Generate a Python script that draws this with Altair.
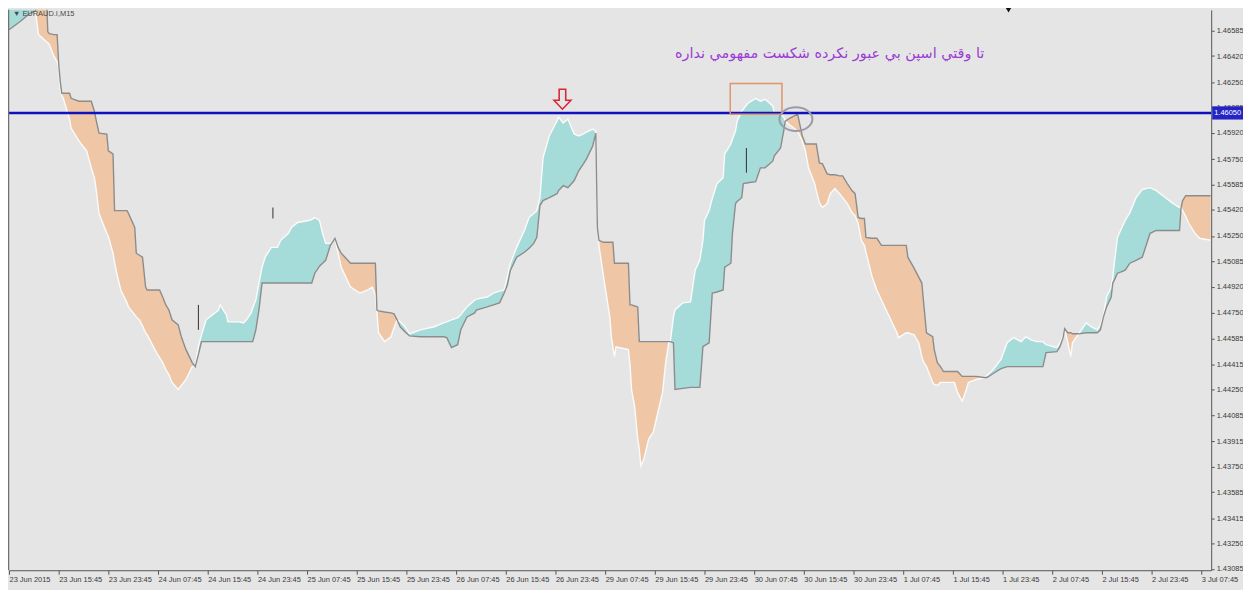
import json
import altair as alt
import pandas as pd
import numpy as np

# ---------------- data (bar index on M15 chart, prices) ----------------
bar = [
    0, 7, 13, 17, 19, 24, 25, 26, 29, 31, 32, 33, 34, 35, 38, 39, 40, 45, 50, 53,
    55, 56, 58, 63, 64, 67, 68, 70, 72, 76, 77, 81, 82, 84, 86, 88, 89, 95, 97, 99,
    101, 103, 105, 109, 111, 114, 118, 120,
    122, 124, 127, 131, 135, 136, 140, 141, 148, 151, 153, 156, 157, 159, 161, 163,
    165, 169, 173, 175, 180, 182, 186, 193, 195, 197, 200, 202, 204, 207, 210,
    212, 214, 220, 226, 231, 234, 236, 237, 238, 242, 246, 248, 250,
    252, 255, 258, 265, 274, 280, 282, 285, 289, 291, 295, 300, 301, 308, 312, 316,
    319, 321, 323, 327, 332, 335, 338, 340, 342, 344, 348, 353, 354, 357, 360, 364,
    367, 370, 372, 376, 378, 379,
    380, 383, 387, 388, 389, 390, 391, 399, 400, 401, 403, 405, 406, 407, 409, 412,
    415, 418, 421, 423, 425, 426,
    428, 429, 434, 439, 442, 445, 447, 448, 451, 453, 456, 460, 461, 465, 466, 468,
    469, 472, 473, 476, 481, 484, 487, 490, 492, 493, 497, 499, 500,
    503, 508, 511, 513, 515, 519, 520, 522, 524, 527, 529, 532, 535, 537, 540, 543,
    545, 547, 549, 551, 552, 556, 559, 562, 568, 572, 573, 578, 579, 583, 586, 588,
    589, 591, 595, 596, 598, 600, 602, 609, 611, 614, 616, 618, 623, 628,
    630, 634, 639, 643, 647, 652, 655, 658, 662, 666, 668, 675, 677, 679, 680,
    682, 684, 685, 689,
    694, 697, 701, 703, 705, 707, 710, 711, 712, 714, 716, 719, 722, 726, 730, 735,
    739, 745, 749, 754, 755,
    756, 758, 760, 764, 767, 774,
]

span_a = [
    1.46837, 1.46804, 1.46759, 1.46714, 1.46559, 1.46514, 1.46507, 1.46494, 1.46417, 1.46384,
    1.46352, 1.46204, 1.46165, 1.46145, 1.46042, 1.46010, 1.45952, 1.45868, 1.45803, 1.45693,
    1.45629, 1.45564, 1.45396, 1.45267, 1.45247, 1.45138, 1.45079, 1.44983, 1.44899, 1.44815,
    1.44789, 1.44737, 1.44724, 1.44705, 1.44666, 1.44621, 1.44608, 1.44492, 1.44459, 1.44427,
    1.44382, 1.44349, 1.44298, 1.44253, 1.44278, 1.44317, 1.44401, 1.44401,
    1.44530, 1.44608, 1.44705, 1.44737, 1.44769, 1.44802, 1.44737, 1.44692, 1.44692, 1.44685,
    1.44705, 1.44750, 1.44782, 1.44834, 1.44944, 1.45047, 1.45112, 1.45176, 1.45176, 1.45222,
    1.45267, 1.45306, 1.45338, 1.45351, 1.45357, 1.45370, 1.45351, 1.45267, 1.45202, 1.45202,
    1.45235,
    1.45138, 1.45047, 1.44918, 1.44879, 1.44899, 1.44918, 1.44866, 1.44756, 1.44621, 1.44563,
    1.44595, 1.44653, 1.44705,
    1.44692, 1.44660, 1.44614, 1.44640, 1.44660, 1.44685, 1.44692, 1.44705, 1.44718, 1.44737,
    1.44789, 1.44834, 1.44840, 1.44853, 1.44879, 1.44892, 1.44899, 1.44983, 1.45073, 1.45176,
    1.45286, 1.45370, 1.45396, 1.45415, 1.45499, 1.45758, 1.45900, 1.45997, 1.46023, 1.45984,
    1.46010, 1.45913, 1.45900, 1.45913, 1.45926, 1.45945, 1.45932, 1.45306,
    1.45189, 1.44983, 1.44724, 1.44595, 1.44530, 1.44466, 1.44530, 1.44511, 1.44414, 1.44253,
    1.44143, 1.43930, 1.43865, 1.43755, 1.43800, 1.43930, 1.43975, 1.44104, 1.44233, 1.44427,
    1.44556, 1.44563,
    1.44724, 1.44769, 1.44815, 1.44821, 1.45028, 1.45093, 1.45222, 1.45351, 1.45415, 1.45493,
    1.45590, 1.45629, 1.45784, 1.45848, 1.45881, 1.45932, 1.45997, 1.46061, 1.46074, 1.46113,
    1.46145, 1.46126, 1.46139, 1.46113, 1.46094, 1.46048, 1.46042, 1.46023, 1.45997,
    1.45971, 1.45932, 1.45868, 1.45803, 1.45693, 1.45590, 1.45545, 1.45467, 1.45435, 1.45461,
    1.45525, 1.45558, 1.45525, 1.45499, 1.45461, 1.45402, 1.45383, 1.45331, 1.45222, 1.45189,
    1.45144, 1.44983, 1.44899, 1.44834, 1.44705, 1.44621, 1.44589, 1.44621, 1.44621, 1.44608,
    1.44556, 1.44466, 1.44433, 1.44401, 1.44298, 1.44285, 1.44278, 1.44298, 1.44298, 1.44298,
    1.44233, 1.44175, 1.44233, 1.44298, 1.44317, 1.44330,
    1.44343, 1.44382, 1.44447, 1.44556, 1.44589, 1.44563, 1.44595, 1.44576, 1.44563, 1.44563,
    1.44543, 1.44524, 1.44556, 1.44601, 1.44647,
    1.44556, 1.44466, 1.44556, 1.44614,
    1.44685, 1.44660, 1.44640, 1.44672, 1.44737, 1.44853, 1.44918, 1.44983, 1.45073, 1.45241,
    1.45286, 1.45351, 1.45402, 1.45499, 1.45551, 1.45564, 1.45545, 1.45499, 1.45467, 1.45435,
    1.45435,
    1.45415, 1.45377, 1.45331, 1.45267, 1.45235, 1.45222,
]

span_b = [
    1.46591, 1.46643, 1.46694, 1.46714, 1.46837, 1.46837, 1.46578, 1.46565, 1.46559, 1.46559,
    1.46371, 1.46255, 1.46178, 1.46178, 1.46178, 1.46178, 1.46145, 1.46126, 1.46126, 1.46126,
    1.46061, 1.46010, 1.45919, 1.45913, 1.45803, 1.45784, 1.45415, 1.45415, 1.45415, 1.45415,
    1.45396, 1.45306, 1.45138, 1.45125, 1.45112, 1.44918, 1.44899, 1.44899, 1.44899, 1.44853,
    1.44802, 1.44769, 1.44705, 1.44672, 1.44595, 1.44511, 1.44427, 1.44401,
    1.44479, 1.44563, 1.44563, 1.44563, 1.44563, 1.44563, 1.44563, 1.44563, 1.44563, 1.44563,
    1.44563, 1.44563, 1.44563, 1.44640, 1.44769, 1.44944, 1.44944, 1.44944, 1.44944, 1.44944,
    1.44944, 1.44944, 1.44944, 1.44944, 1.44944, 1.45008, 1.45054, 1.45073, 1.45092, 1.45189,
    1.45235,
    1.45176, 1.45138, 1.45073, 1.45073, 1.45073, 1.45073, 1.45073, 1.44769, 1.44763, 1.44756,
    1.44750, 1.44744, 1.44705,
    1.44660, 1.44627, 1.44601, 1.44595, 1.44595, 1.44595, 1.44589, 1.44524, 1.44543, 1.44640,
    1.44724, 1.44750, 1.44769, 1.44789, 1.44802, 1.44815, 1.44879, 1.44931, 1.45028, 1.45112,
    1.45144, 1.45170, 1.45202, 1.45241, 1.45448, 1.45480, 1.45499, 1.45525, 1.45545, 1.45577,
    1.45564, 1.45609, 1.45674, 1.45719, 1.45751, 1.45835, 1.45919, 1.45306,
    1.45222, 1.45209, 1.45209, 1.45209, 1.45209, 1.45073, 1.45073, 1.45073, 1.44802, 1.44802,
    1.44795, 1.44789, 1.44563, 1.44563, 1.44563, 1.44563, 1.44563, 1.44563, 1.44563, 1.44563,
    1.44563, 1.44563,
    1.44556, 1.44253, 1.44259, 1.44266, 1.44266, 1.44266, 1.44530, 1.44537, 1.44556, 1.44879,
    1.44886, 1.44899, 1.45047, 1.45073, 1.45267, 1.45461, 1.45474, 1.45499, 1.45590, 1.45596,
    1.45603, 1.45693, 1.45693, 1.45719, 1.45738, 1.45771, 1.45822, 1.45932, 1.45997,
    1.46016, 1.46042, 1.45900, 1.45848, 1.45848, 1.45848, 1.45848, 1.45725, 1.45719, 1.45654,
    1.45648, 1.45648, 1.45641, 1.45641, 1.45590, 1.45545, 1.45525, 1.45370, 1.45364, 1.45364,
    1.45241, 1.45235, 1.45235, 1.45189, 1.45189, 1.45189, 1.45189, 1.45189, 1.45112, 1.45041,
    1.44983, 1.44944, 1.44834, 1.44621, 1.44595, 1.44511, 1.44427, 1.44401, 1.44369, 1.44369,
    1.44369, 1.44337, 1.44337, 1.44337, 1.44337, 1.44330,
    1.44330, 1.44356, 1.44388, 1.44401, 1.44401, 1.44401, 1.44401, 1.44401, 1.44401, 1.44401,
    1.44492, 1.44498, 1.44530, 1.44589, 1.44647,
    1.44621, 1.44621, 1.44614, 1.44614,
    1.44621, 1.44621, 1.44621, 1.44640, 1.44724, 1.44789, 1.44853, 1.44944, 1.44963, 1.45008,
    1.45015, 1.45028, 1.45073, 1.45092, 1.45112, 1.45267, 1.45286, 1.45286, 1.45286, 1.45286,
    1.45435,
    1.45480, 1.45512, 1.45512, 1.45512, 1.45512, 1.45512,
]

assert len(bar) == len(span_a) == len(span_b)

x_tick_bars = list(range(0, 769, 32))
x_tick_labels = [
    "23 Jun 2015", "23 Jun 15:45", "23 Jun 23:45", "24 Jun 07:45", "24 Jun 15:45",
    "24 Jun 23:45", "25 Jun 07:45", "25 Jun 15:45", "25 Jun 23:45", "26 Jun 07:45",
    "26 Jun 15:45", "26 Jun 23:45", "29 Jun 07:45", "29 Jun 15:45", "29 Jun 23:45",
    "30 Jun 07:45", "30 Jun 15:45", "30 Jun 23:45", "1 Jul 07:45", "1 Jul 15:45",
    "1 Jul 23:45", "2 Jul 07:45", "2 Jul 15:45", "2 Jul 23:45", "3 Jul 07:45",
]
y_tick_values = [
    1.46585, 1.46420, 1.46250, 1.46085, 1.45920, 1.45750, 1.45585, 1.45420, 1.45250,
    1.45085, 1.44920, 1.44750, 1.44585, 1.44415, 1.44250, 1.44085, 1.43915, 1.43750,
    1.43585, 1.43415, 1.43250, 1.43085,
]

level_price = [1.46050]
level_label = ["1.46050"]

wick_bar = [122, 170, 475]
wick_lo = [1.44640, 1.45364, 1.45661]
wick_hi = [1.44802, 1.45435, 1.45822]

note_text = ["تا وقتي اسپن بي عبور نكرده شكست مفهومي نداره"]
note_bar = [528.6]
note_price = [1.46430]

arrow_bar = [356.5]
arrow_price = [1.46139]

box_bar = [464.6]
box_bar2 = [497.9]
box_lo = [1.46042]
box_hi = [1.46242]

ellipse_bar = [506.9]
ellipse_price = [1.46010]

symbol_label = ["▼ EURAUD.I,M15"]

# ---------------- chart ----------------
BG = "#e5e5e5"
FONT = "Liberation Sans"

df = pd.DataFrame({"bar": bar, "a": span_a, "b": span_b})
bull = df["a"] >= df["b"]
df["teal_hi"] = np.where(bull, df["a"], df["b"])
df["teal_lo"] = df["b"]
df["org_hi"] = np.where(bull, df["a"], df["b"])
df["org_lo"] = df["a"]

xscale = alt.Scale(domain=[0, 774.4], nice=False, zero=False)
yscale = alt.Scale(domain=[1.43077, 1.46720], nice=False, zero=False)

label_expr = json.dumps(x_tick_labels, ensure_ascii=False) + "[round(datum.value / 32)]"

x_axis = alt.Axis(
    values=x_tick_bars, labelExpr=label_expr, title=None, grid=False,
    domainColor="#555555", tickColor="#555555", tickSize=4,
    labelAlign="left", labelBaseline="top", labelPadding=1, labelFontSize=7.5,
    labelFont=FONT, labelColor="#3a3a3a", labelOverlap=False, labelBound=False,
    labelFlush=False,
)
y_axis = alt.Axis(
    orient="right", values=y_tick_values, format=".5f", title=None, grid=False,
    domainColor="#555555", tickColor="#555555", tickSize=3,
    labelAlign="left", labelPadding=2, labelFontSize=7.5, labelFont=FONT,
    labelColor="#3a3a3a", labelOverlap=False, labelBound=False, labelFlush=False,
)


def X(field):
    return alt.X(field, type="quantitative", scale=xscale, axis=x_axis)


def Y(field):
    return alt.Y(field, type="quantitative", scale=yscale, axis=y_axis)


base = alt.Chart(df)

teal = base.mark_area(color="#a5dcd9", clip=True).encode(
    x=X("bar"), y=Y("teal_hi"), y2="teal_lo:Q",
)
orange = base.mark_area(color="#efc7a6", clip=True).encode(
    x=X("bar"), y=Y("org_hi"), y2="org_lo:Q",
)
line_a = base.mark_line(color="#fbfbfb", strokeWidth=1.4, clip=True).encode(
    x=X("bar"), y=Y("a"),
)
line_b = base.mark_line(color="#8c8c8c", strokeWidth=1.4, clip=True).encode(
    x=X("bar"), y=Y("b"),
)

wicks = alt.Chart(pd.DataFrame({"bar": wick_bar, "lo": wick_lo, "hi": wick_hi})).mark_rule(
    color="#303030", strokeWidth=1
).encode(x=X("bar"), y=Y("lo"), y2="hi:Q")

level_df = pd.DataFrame({"price": level_price, "label": level_label,
                         "hi": [level_price[0] + 0.00043], "lo": [level_price[0] - 0.00043]})
level = alt.Chart(level_df).mark_rule(color="#1010c0", strokeWidth=2.4).encode(
    y=Y("price"),
)
level_box = alt.Chart(level_df).mark_rect(color="#2424c4", clip=False).encode(
    x=alt.value(1211), x2=alt.value(1243), y=Y("hi"), y2="lo:Q",
)
level_txt = alt.Chart(level_df).mark_text(
    color="white", fontSize=7.5, font=FONT, align="left", baseline="middle"
).encode(x=alt.value(1213), y=Y("price"), text="label:N")

note = alt.Chart(pd.DataFrame({"bar": note_bar, "price": note_price, "t": note_text})).mark_text(
    font="DejaVu Sans", fontSize=14.5, color="#9a3cd4", align="center", baseline="middle"
).encode(x=X("bar"), y=Y("price"), text="t:N")

ARROW = "M -0.33 -1 L 0.33 -1 L 0.33 0.1 L 0.85 0.1 L 0 1 L -0.85 0.1 L -0.33 0.1 Z"
arrow = alt.Chart(pd.DataFrame({"bar": arrow_bar, "price": arrow_price})).mark_point(
    shape=ARROW, size=400, filled=False, stroke="#d8283a", strokeWidth=1.6, opacity=1
).encode(x=X("bar"), y=Y("price"))

box = alt.Chart(pd.DataFrame({"b1": box_bar, "b2": box_bar2, "lo": box_lo, "hi": box_hi})).mark_rect(
    fillOpacity=0, stroke="#e0956a", strokeWidth=1.5
).encode(x=X("b1"), x2="b2:Q", y=Y("lo"), y2="hi:Q")

ELLIPSE = "M -1 0 A 1 0.72 0 1 0 1 0 A 1 0.72 0 1 0 -1 0 Z"
ellipse = alt.Chart(pd.DataFrame({"bar": ellipse_bar, "price": ellipse_price})).mark_point(
    shape=ELLIPSE, size=1100, filled=False, stroke="#9a9aa6", strokeWidth=2, opacity=1
).encode(x=X("bar"), y=Y("price"))

sym = alt.Chart(pd.DataFrame({"t": symbol_label})).mark_text(
    font=FONT, fontSize=7.5, color="#4a4a4a", align="left", baseline="middle"
).encode(x=alt.value(4), y=alt.value(4), text="t:N")

left_edge = alt.Chart(pd.DataFrame({"t": [0]})).mark_rule(color="#707070", strokeWidth=1.5).encode(
    x=alt.value(-0.5), y=alt.value(0), y2=alt.value(564)
)

marker = alt.Chart(pd.DataFrame({"t": [0]})).mark_point(
    shape="triangle-down", size=40, filled=True, color="#111111", opacity=1
).encode(x=alt.value(1006), y=alt.value(0))

chart = alt.layer(
    teal, orange, line_a, line_b, wicks, level, note, arrow, box, ellipse,
    sym, left_edge, marker, level_box, level_txt,
).properties(
    width=1210, height=564,
    padding={"left": 1, "top": 0, "right": 32, "bottom": 18},
    autosize=alt.AutoSizeParams(type="none"),
).configure(background=BG).configure_view(fill=BG, stroke=None)

chart.save("out.html", embed_options={"renderer": "svg", "actions": False})
